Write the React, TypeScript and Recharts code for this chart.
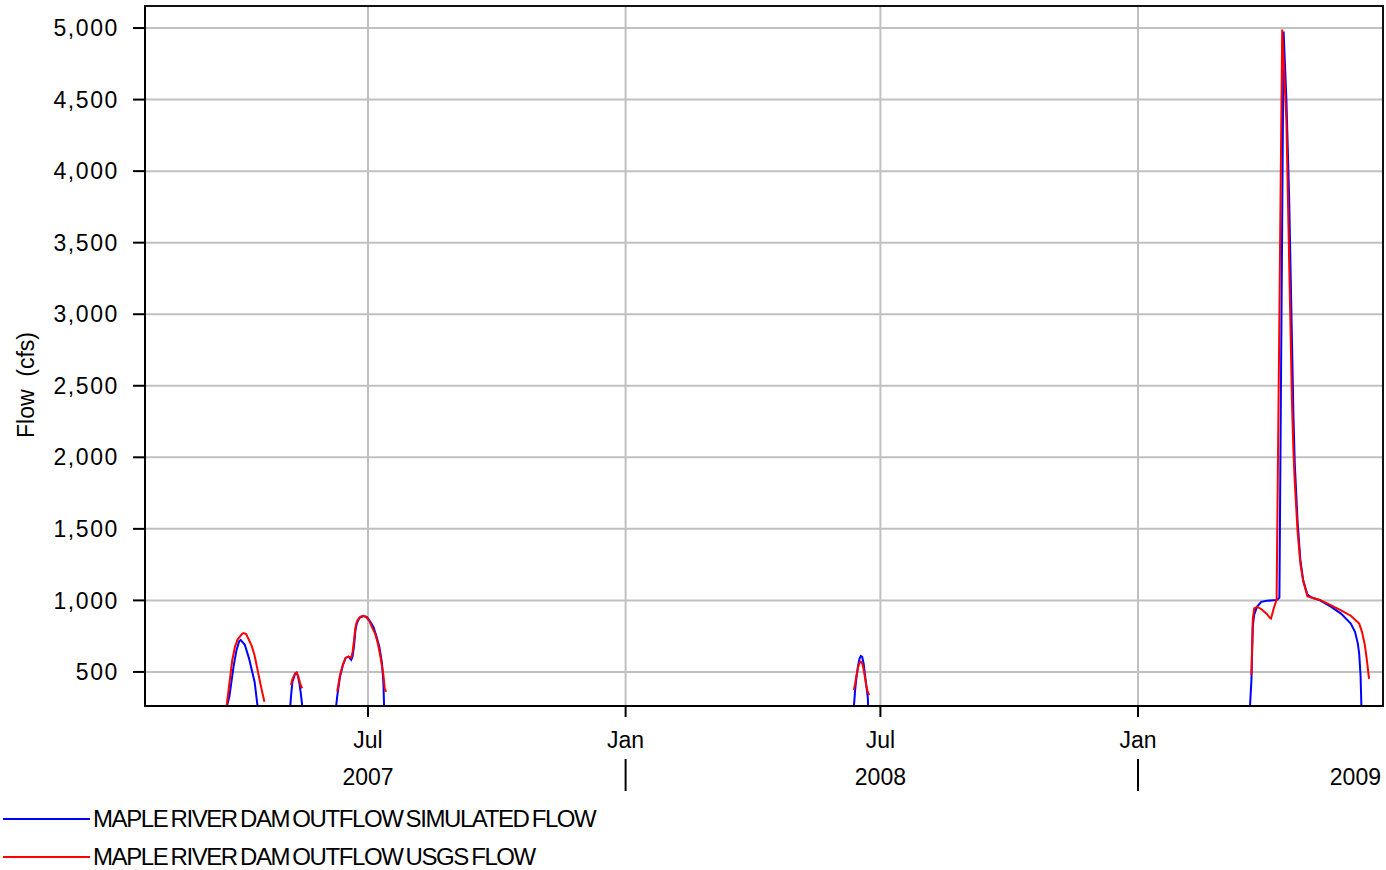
import React from 'react';
import { LineChart, Line, XAxis, YAxis, CartesianGrid, ReferenceArea } from 'recharts';

// Simulated outflow (blue) - values below the axis floor drop out of view
const simDates = [
  '2007-03-21', '2007-03-22', '2007-03-24', '2007-03-27', '2007-03-29', '2007-03-31', '2007-04-01', '2007-04-04',
  '2007-04-07', '2007-04-11', '2007-04-13', '2007-04-14',
  '2007-05-05', '2007-05-06', '2007-05-07', '2007-05-08', '2007-05-10', '2007-05-11', '2007-05-12', '2007-05-13',
  '2007-05-14', '2007-05-15', '2007-05-16',
  '2007-06-07', '2007-06-08', '2007-06-09', '2007-06-11', '2007-06-13', '2007-06-15', '2007-06-17', '2007-06-19',
  '2007-06-20', '2007-06-21', '2007-06-22', '2007-06-23', '2007-06-25', '2007-06-28', '2007-06-30', '2007-07-01',
  '2007-07-03', '2007-07-05', '2007-07-07', '2007-07-09', '2007-07-10', '2007-07-11', '2007-07-12', '2007-07-13',
  '2008-06-11', '2008-06-12', '2008-06-13', '2008-06-14', '2008-06-15', '2008-06-16', '2008-06-17', '2008-06-18',
  '2008-06-19', '2008-06-20', '2008-06-21', '2008-06-22', '2008-06-23',
  '2009-03-21', '2009-03-22', '2009-03-23', '2009-03-24', '2009-03-25', '2009-03-27', '2009-03-30', '2009-04-03',
  '2009-04-10', '2009-04-11', '2009-04-12', '2009-04-15', '2009-04-17', '2009-04-19', '2009-04-21', '2009-04-22',
  '2009-04-23', '2009-04-25', '2009-04-27', '2009-04-29', '2009-05-02', '2009-05-05', '2009-05-11', '2009-05-19',
  '2009-05-26', '2009-06-02', '2009-06-05', '2009-06-07', '2009-06-08', '2009-06-09', '2009-06-10',
];
const simFlow = [
  100, 250, 330, 540, 650, 715, 724, 690,
  595, 430, 270, 100,
  100, 200, 330, 430, 490, 495, 470, 420,
  350, 265, 100,
  100, 240, 330, 467, 545, 598, 607, 584,
  610, 680, 790, 840, 880, 891, 885, 875,
  845, 812, 750, 680, 620, 560, 421, 100,
  100, 250, 380, 470, 540, 590, 612, 605,
  560, 480, 400, 320, 100,
  100, 262, 439, 820, 900, 955, 990, 997,
  1003, 1010, 1020, 4975, 4500, 3800, 2800, 2300,
  1950, 1550, 1280, 1140, 1040, 1020, 1000, 955,
  908, 838, 780, 700, 627, 470, 100,
];

// USGS observed flow (red) - null = no record
const usgsDates = [
  '2007-03-21', '2007-03-22', '2007-03-24', '2007-03-26', '2007-03-28', '2007-03-30', '2007-04-02', '2007-04-03',
  '2007-04-05', '2007-04-09', '2007-04-11', '2007-04-13', '2007-04-15', '2007-04-16', '2007-04-18', '2007-04-19',
  '2007-05-07', '2007-05-08', '2007-05-10', '2007-05-11', '2007-05-12', '2007-05-13', '2007-05-14', '2007-05-15',
  '2007-05-16',
  '2007-06-09', '2007-06-11', '2007-06-13', '2007-06-15', '2007-06-17', '2007-06-19', '2007-06-20', '2007-06-21',
  '2007-06-22', '2007-06-23', '2007-06-24', '2007-06-26', '2007-06-28', '2007-06-30', '2007-07-02', '2007-07-04',
  '2007-07-06', '2007-07-08', '2007-07-10', '2007-07-12', '2007-07-13', '2007-07-14', '2007-07-15',
  '2008-06-12', '2008-06-13', '2008-06-14', '2008-06-15', '2008-06-16', '2008-06-17', '2008-06-18', '2008-06-19',
  '2008-06-20', '2008-06-21', '2008-06-22', '2008-06-23', '2008-06-24',
  '2009-03-23', '2009-03-24', '2009-03-25', '2009-03-27', '2009-03-30', '2009-04-03', '2009-04-05', '2009-04-06',
  '2009-04-08', '2009-04-10', '2009-04-14', '2009-04-17', '2009-04-19', '2009-04-21', '2009-04-22', '2009-04-23',
  '2009-04-25', '2009-04-27', '2009-04-29', '2009-05-02', '2009-05-05', '2009-05-11', '2009-05-19', '2009-05-26',
  '2009-06-02', '2009-06-08', '2009-06-10', '2009-06-12', '2009-06-13', '2009-06-14', '2009-06-15',
];
const usgsFlow = [
  200, 262, 420, 580, 677, 730, 765, 772,
  765, 680, 615, 520, 425, 378, 292, null,
  409, 450, 490, 495, 475, 440, 405, 386,
  null,
  362, 479, 550, 598, 607, 600, 640, 720,
  810, 850, 870, 888, 892, 880, 855, 810,
  770, 700, 600, 480, 380, 362, null,
  374, 420, 480, 530, 562, 572, 560, 520,
  460, 400, 360, 339, null,
  480, 870, 944, 955, 940, 905, 880, 873,
  945, 1005, 4990, 4350, 3350, 2380, 2050, 1820,
  1480, 1255, 1135, 1030, 1020, 1003, 965, 930,
  893, 838, 780, 690, 620, 540, 451,
];

const monthTicks = ['2007-07-01', '2008-01-01', '2008-07-01', '2009-01-01'];
const monthNames = ['Jan', 'Feb', 'Mar', 'Apr', 'May', 'Jun', 'Jul', 'Aug', 'Sep', 'Oct', 'Nov', 'Dec'];
const yTicks = [500, 1000, 1500, 2000, 2500, 3000, 3500, 4000, 4500, 5000];

const seriesNames = ['MAPLE RIVER DAM OUTFLOW SIMULATED FLOW', 'MAPLE RIVER DAM OUTFLOW USGS FLOW'];
const seriesColors = ['#0000ff', '#ff0000'];

const toTime = (s: string) => Date.parse(s.length > 10 ? s : s + 'T00:00:00Z');

const xStart = toTime('2007-01-22T17:00:00Z');
const xEnd = toTime('2009-06-25T00:00:00Z');
const yDomain = [262, 5154];

const simData = simDates.map((d, i) => ({ t: toTime(d), flow: simFlow[i] }));
const usgsData = usgsDates.map((d, i) => ({ t: toTime(d), flow: usgsFlow[i] }));
const xTicks = [...monthTicks.map(toTime), xEnd];

const FONT = '"Liberation Sans", Arial, Helvetica, sans-serif';

const DateTick = (props: any) => {
  const { x, y, payload } = props;
  const t = payload.value;
  const d = new Date(t);
  const year = d.getUTCFullYear();
  if (t === xEnd) {
    // year label pinned to the end of the axis
    return (
      <text x={x - 2} y={y + 79} textAnchor="end" fontSize={23} fontFamily={FONT} fill="#000">{year}</text>
    );
  }
  const month = d.getUTCMonth();
  return (
    <g>
      <line x1={x} y1={y} x2={x} y2={y + 11} stroke="#000" strokeWidth={2} />
      <text x={x} y={y + 42} textAnchor="middle" fontSize={23} fontFamily={FONT} fill="#000">{monthNames[month]}</text>
      {month === 0 ? (
        <line x1={x} y1={y + 53} x2={x} y2={y + 85} stroke="#000" strokeWidth={2} />
      ) : (
        <text x={x} y={y + 79} textAnchor="middle" fontSize={23} fontFamily={FONT} fill="#000">{year}</text>
      )}
    </g>
  );
};

const FlowLabel = (props: any) => {
  const { viewBox } = props;
  const cy = viewBox.y + viewBox.height / 2 + 29;
  return (
    <text
      x={34}
      y={cy}
      transform={`rotate(-90, 34, ${cy})`}
      textAnchor="middle"
      fontSize={23}
      fontFamily={FONT}
      fill="#000"
      style={{ whiteSpace: 'pre' }}
    >
      Flow  (cfs)
    </text>
  );
};

export default function App() {
  return (
    <div style={{ position: 'absolute', left: 0, top: 0, width: 1386, height: 870, background: '#fff' }}>
      <LineChart width={1386} height={800} margin={{ top: 6, right: 3, bottom: 4, left: 0 }}>
        <CartesianGrid stroke="#c0c0c0" strokeWidth={2} />
        <XAxis
          dataKey="t"
          type="number"
          domain={[xStart, xEnd]}
          allowDataOverflow
          ticks={xTicks}
          interval={0}
          height={90}
          tickSize={0}
          tickMargin={0}
          tickLine={false}
          tick={<DateTick />}
          axisLine={{ stroke: '#000', strokeWidth: 2 }}
        />
        <YAxis
          type="number"
          domain={yDomain}
          allowDataOverflow
          ticks={yTicks}
          interval={0}
          width={145}
          tickSize={12}
          tickMargin={14}
          tickFormatter={(v: number) => v.toLocaleString('en-US')}
          tick={{ fontSize: 23, fontFamily: FONT, fill: '#000', letterSpacing: 1.6 }}
          tickLine={{ stroke: '#000', strokeWidth: 2 }}
          axisLine={{ stroke: '#000', strokeWidth: 2 }}
          label={<FlowLabel />}
        />
        <Line
          data={simData}
          dataKey="flow"
          name={seriesNames[0]}
          type="linear"
          stroke={seriesColors[0]}
          strokeWidth={2}
          dot={false}
          isAnimationActive={false}
        />
        <Line
          data={usgsData}
          dataKey="flow"
          name={seriesNames[1]}
          type="linear"
          stroke={seriesColors[1]}
          strokeWidth={2}
          dot={false}
          connectNulls={false}
          isAnimationActive={false}
        />
        {/* plot frame */}
        <ReferenceArea
          x1={xStart}
          x2={xEnd}
          y1={yDomain[0]}
          y2={yDomain[1]}
          fill="none"
          stroke="#111"
          strokeWidth={2}
          ifOverflow="visible"
        />
      </LineChart>

      {/* legend */}
      <div style={{ position: 'absolute', left: 3, top: 800, fontFamily: FONT }}>
        {seriesNames.map((name, i) => (
          <div key={name} style={{ display: 'flex', alignItems: 'center', height: 38 }}>
            <div style={{ width: 87, height: 2, background: seriesColors[i] }} />
            <span style={{ fontSize: 24, letterSpacing: -1.42, wordSpacing: -2, color: '#000', marginLeft: 3, lineHeight: '38px', whiteSpace: 'nowrap' }}>
              {name}
            </span>
          </div>
        ))}
      </div>
    </div>
  );
}
